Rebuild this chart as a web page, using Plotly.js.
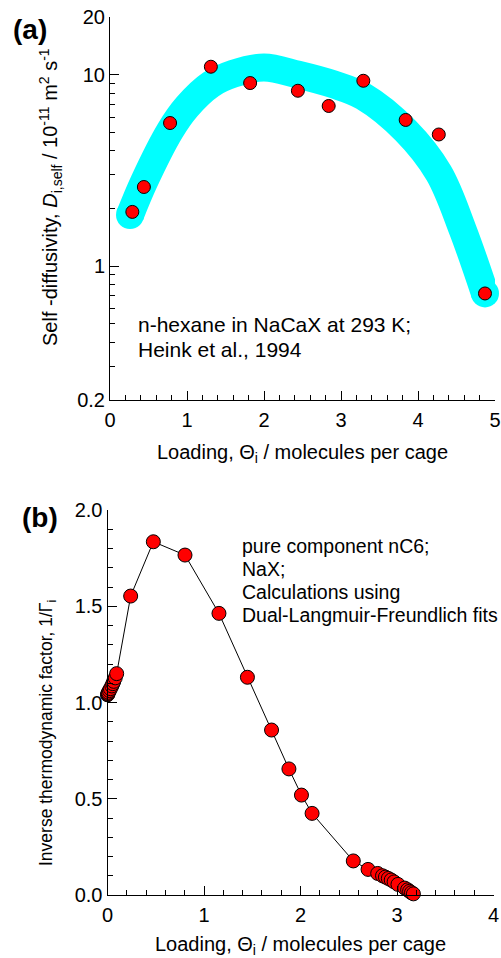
<!DOCTYPE html>
<html>
<head>
<meta charset="utf-8">
<script src="https://cdn.plot.ly/plotly-3.0.1.min.js"></script>
<style>html,body{margin:0;padding:0;background:#fff;} #chart{width:501px;height:958px;}</style>
</head>
<body>
<div id="chart"></div>
<script>
// ---- Panel (a): self-diffusivity of n-hexane in NaCaX ----
const loadingA = [0.29, 0.44, 0.78, 1.31, 1.82, 2.44, 2.84, 3.29, 3.84, 4.27, 4.87];
const dselfA   = [1.92, 2.59, 5.59, 11.0, 9.04, 8.24, 6.86, 9.29, 5.80, 4.87, 0.72];
// guide band (cyan) centre-line
const bandX = [0.26, 0.44, 0.78, 1.0, 1.31, 1.6, 2.0, 2.44, 2.9, 3.29, 3.84, 4.27, 4.58, 4.87];
const bandY = [1.85, 2.75, 5.1, 6.8, 8.9, 10.1, 10.9, 10.0, 8.9, 7.7, 5.1, 3.06, 1.55, 0.72];
const yTickValsA = [0.2, 1, 10, 20];
const yTickTextA = ["0.2", "1", "10", "20"];
const yMinorA = [0.3, 0.4, 0.5, 0.6, 0.7, 0.8, 0.9, 2, 3, 4, 5, 6, 7, 8, 9];
const xTickValsA = [0, 1, 2, 3, 4, 5];

// ---- Panel (b): inverse thermodynamic factor, nC6 in NaX ----
const loadingB = [0.0, 0.003, 0.006, 0.01, 0.02, 0.03, 0.045, 0.055, 0.065, 0.08, 0.095,
                  0.24, 0.475, 0.803, 1.155, 1.45, 1.70, 1.88, 2.01, 2.12, 2.547,
                  2.70, 2.80, 2.85, 2.88, 2.91, 2.94, 2.97, 3.01, 3.08, 3.11, 3.13, 3.15, 3.17];
const invGammaB = [1.040, 1.043, 1.047, 1.053, 1.062, 1.072, 1.086, 1.098, 1.110, 1.128, 1.150,
                   1.553, 1.835, 1.766, 1.463, 1.131, 0.857, 0.655, 0.519, 0.424, 0.177,
                   0.133, 0.112, 0.100, 0.093, 0.086, 0.078, 0.068, 0.055, 0.036, 0.027, 0.019, 0.012, 0.006];
const xTickValsB = [0, 1, 2, 3, 4];
const yTickValsB = [0, 0.5, 1.0, 1.5, 2.0];

const FONT = "Arial, 'Liberation Sans', Helvetica, sans-serif";

const traces = [
  {x: bandX, y: bandY, xaxis: 'x', yaxis: 'y', mode: 'lines', type: 'scatter',
   line: {color: '#00ffff', width: 28, shape: 'spline'}, hoverinfo: 'skip', showlegend: false},
  {x: [bandX[0], bandX[bandX.length-1]], y: [bandY[0], bandY[bandY.length-1]],
   xaxis: 'x', yaxis: 'y', mode: 'markers', type: 'scatter',
   marker: {color: '#00ffff', size: 28, line: {width: 0}}, hoverinfo: 'skip', showlegend: false, cliponaxis: false},
  {x: loadingA, y: dselfA, xaxis: 'x', yaxis: 'y', mode: 'markers', type: 'scatter',
   marker: {color: '#ff0000', size: 13, line: {color: '#000', width: 1}}, showlegend: false, cliponaxis: false},
  {x: loadingB, y: invGammaB, xaxis: 'x2', yaxis: 'y2', mode: 'lines+markers', type: 'scatter',
   line: {color: '#000', width: 1},
   marker: {color: '#ff0000', size: 14, line: {color: '#000', width: 1}}, showlegend: false, cliponaxis: false}
];

const axCommon = {
  showline: true, linecolor: '#000', linewidth: 1, mirror: false,
  showgrid: false, zeroline: false,
  ticks: 'inside', ticklen: 9, tickwidth: 1, tickcolor: '#000',
  tickfont: {family: FONT, size: 20, color: '#000'},
  fixedrange: true
};

const W = 501, H = 958;
const px = v => v / W;
const py = v => (H - v) / H;

const layout = {
  width: W, height: H,
  margin: {l: 0, r: 0, t: 0, b: 0},
  paper_bgcolor: '#fff', plot_bgcolor: 'rgba(0,0,0,0)',
  font: {family: FONT, color: '#000'},
  xaxis: Object.assign({}, axCommon, {
    domain: [px(110), px(495)], anchor: 'y', range: [0, 5],
    tickmode: 'array', tickvals: xTickValsA, ticklabelstandoff: 2,
    minor: {ticks: 'inside', ticklen: 5, tickcolor: '#000', dtick: 0.2, showgrid: false},
    title: {text: 'Loading, Θ<sub>i</sub> / molecules per cage', font: {family: FONT, size: 20}, standoff: 14}
  }),
  yaxis: Object.assign({}, axCommon, {
    type: 'log', domain: [py(400), py(17)], anchor: 'x',
    range: [Math.log10(0.2), Math.log10(20)],
    tickmode: 'array', tickvals: yTickValsA, ticktext: yTickTextA,
    minor: {ticks: 'inside', ticklen: 5, tickcolor: '#000', tickvals: yMinorA, showgrid: false}
  }),
  xaxis2: Object.assign({}, axCommon, {
    domain: [px(107.5), px(493.5)], anchor: 'y2', range: [0, 4],
    tickmode: 'array', tickvals: xTickValsB, ticklabelstandoff: 2,
    minor: {ticks: 'inside', ticklen: 5, tickcolor: '#000', dtick: 0.2, showgrid: false},
    title: {text: 'Loading, Θ<sub>i</sub> / molecules per cage', font: {family: FONT, size: 20}, standoff: 14}
  }),
  yaxis2: Object.assign({}, axCommon, {
    domain: [py(895), py(510)], anchor: 'x2', range: [0, 2],
    tickmode: 'array', tickvals: yTickValsB, tickformat: '.1f',
    minor: {ticks: 'inside', ticklen: 5, tickcolor: '#000', dtick: 0.1, showgrid: false}
  }),
  annotations: [
    {text: 'Self -diffusivity, <i>D</i><sub>i,self</sub> / 10<sup>-11</sup> m<sup>2</sup> s<sup>-1</sup>', xref: 'paper', yref: 'paper',
     x: px(50), y: py(197), xanchor: 'center', yanchor: 'middle', textangle: -90, showarrow: false, font: {family: FONT, size: 20}},
    {text: 'Inverse thermodynamic factor, 1/Γ<sub>i</sub>', xref: 'paper', yref: 'paper',
     x: px(47), y: py(733), xanchor: 'center', yanchor: 'middle', textangle: -90, showarrow: false, font: {family: FONT, size: 17.5}},
    {text: '<b>(a)</b>', xref: 'paper', yref: 'paper', x: px(11), y: py(30), xanchor: 'left', yanchor: 'middle', showarrow: false, font: {family: FONT, size: 28}},
    {text: '<b>(b)</b>', xref: 'paper', yref: 'paper', x: px(20), y: py(517), xanchor: 'left', yanchor: 'middle', showarrow: false, font: {family: FONT, size: 28}},
    {text: 'n-hexane in NaCaX at 293 K;', xref: 'paper', yref: 'paper', x: px(136), y: py(325), xanchor: 'left', yanchor: 'middle', showarrow: false, font: {family: FONT, size: 21}},
    {text: 'Heink et al., 1994', xref: 'paper', yref: 'paper', x: px(136), y: py(350), xanchor: 'left', yanchor: 'middle', showarrow: false, font: {family: FONT, size: 21}},
    {text: 'pure component nC6;', xref: 'paper', yref: 'paper', x: px(240), y: py(546), xanchor: 'left', yanchor: 'middle', showarrow: false, font: {family: FONT, size: 19.5}},
    {text: 'NaX;', xref: 'paper', yref: 'paper', x: px(240), y: py(569), xanchor: 'left', yanchor: 'middle', showarrow: false, font: {family: FONT, size: 19.5}},
    {text: 'Calculations using', xref: 'paper', yref: 'paper', x: px(240), y: py(592), xanchor: 'left', yanchor: 'middle', showarrow: false, font: {family: FONT, size: 19.5}},
    {text: 'Dual-Langmuir-Freundlich fits', xref: 'paper', yref: 'paper', x: px(240), y: py(615), xanchor: 'left', yanchor: 'middle', showarrow: false, font: {family: FONT, size: 19.5}}
  ]
};

Plotly.newPlot('chart', traces, layout, {displayModeBar: false, staticPlot: true});
</script>
</body>
</html>
